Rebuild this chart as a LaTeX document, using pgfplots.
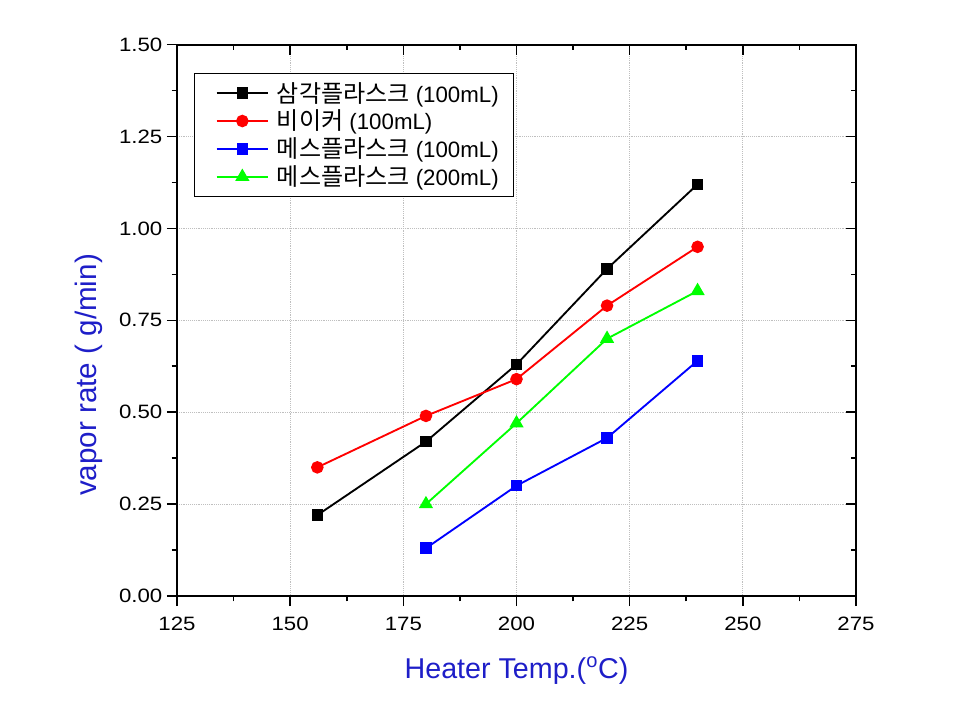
\documentclass[border=0pt]{standalone}
\usepackage{fontspec}
\setmainfont{Liberation Sans}
\newfontfamily\tickfont{Liberation Sans}[FakeStretch=1.15]
\newfontfamily\kr{Noto Sans CJK KR}[Scale=1.08]
\usepackage{pgfplots}
\pgfplotsset{compat=1.18}
\definecolor{lblue}{RGB}{30,30,200}
\begin{document}
\begin{tikzpicture}
\pgfplotsset{
  common/.style={
    scale only axis, width=509.25pt, height=413.5pt,
    xmin=125, xmax=275, ymin=0, ymax=1.5,
    xtick={125,150,...,275}, ytick={0,0.25,...,1.5},
    minor x tick num=1, minor y tick num=1,
    major tick length=7.5pt, minor tick length=4pt,
    axis line style={line width=1.3pt},
    every tick/.style={line width=1.2pt, black},
    /pgf/number format/assume math mode=true,
  }
}
\begin{axis}[common,
    xtick pos=bottom, ytick pos=left, tick align=outside,
    grid=major, grid style={densely dotted, gray!50, line width=0.6pt},
    tick label style={font=\tickfont\fontsize{14.5}{16}\selectfont},
    xticklabel style={yshift=-5pt},
    yticklabel style={/pgf/number format/fixed, /pgf/number format/fixed zerofill, /pgf/number format/precision=2},
    xlabel={Heater Temp.(\textsuperscript{o}C)},
    ylabel={vapor rate ( g/min)},
    label style={font=\fontsize{21.5}{24}\selectfont, text=lblue},
    xlabel style={at={([yshift=-61.5pt]axis description cs:0.5,0)}, anchor=base},
    ylabel style={at={([xshift=-60pt,yshift=-41pt]axis description cs:0,0.5)}, anchor=base, font=\fontsize{22.2}{24}\selectfont},
    legend style={at={(rel axis cs:0.025,0.949)}, anchor=north west, draw=black, line width=1.1pt,
      font=\fontsize{16.7}{20.25}\selectfont, inner xsep=9pt, inner ysep=4.5pt, row sep=0.5pt,
      cells={anchor=west}, /tikz/every odd column/.append style={column sep=4pt}},
    legend image code/.code={\path (-0.24cm,0cm); \draw[mark repeat=2,mark phase=2,#1] plot coordinates {(0cm,0cm) (0.675cm,0cm) (1.35cm,0cm)};},
  ]
\addplot[black, line width=1.4pt, mark=square*, mark size=3.6pt, mark options={solid}]
  coordinates {(156,0.22) (180,0.42) (200,0.63) (220,0.89) (240,1.12)};
\addlegendentry{{\kr 삼각플라스크} (100mL)}
\addplot[red, line width=1.4pt, mark=*, mark size=4pt]
  coordinates {(156,0.35) (180,0.49) (200,0.59) (220,0.79) (240,0.95)};
\addlegendentry{{\kr 비이커} (100mL)}
\addplot[blue, line width=1.4pt, mark=square*, mark size=3.6pt]
  coordinates {(180,0.13) (200,0.30) (220,0.43) (240,0.64)};
\addlegendentry{{\kr 메스플라스크} (100mL)}
\addplot[green, line width=1.4pt, mark=triangle*, mark size=4.8pt]
  coordinates {(180,0.25) (200,0.47) (220,0.70) (240,0.83)};
\addlegendentry{{\kr 메스플라스크} (200mL)}
\end{axis}
\begin{axis}[common,
    xtick pos=top, ytick pos=right, tick align=inside,
    xticklabels={}, yticklabels={},
  ]
\end{axis}
\path[use as bounding box] (-132.75pt,-78pt) rectangle (583.5pt,447pt);
\end{tikzpicture}
\end{document}
